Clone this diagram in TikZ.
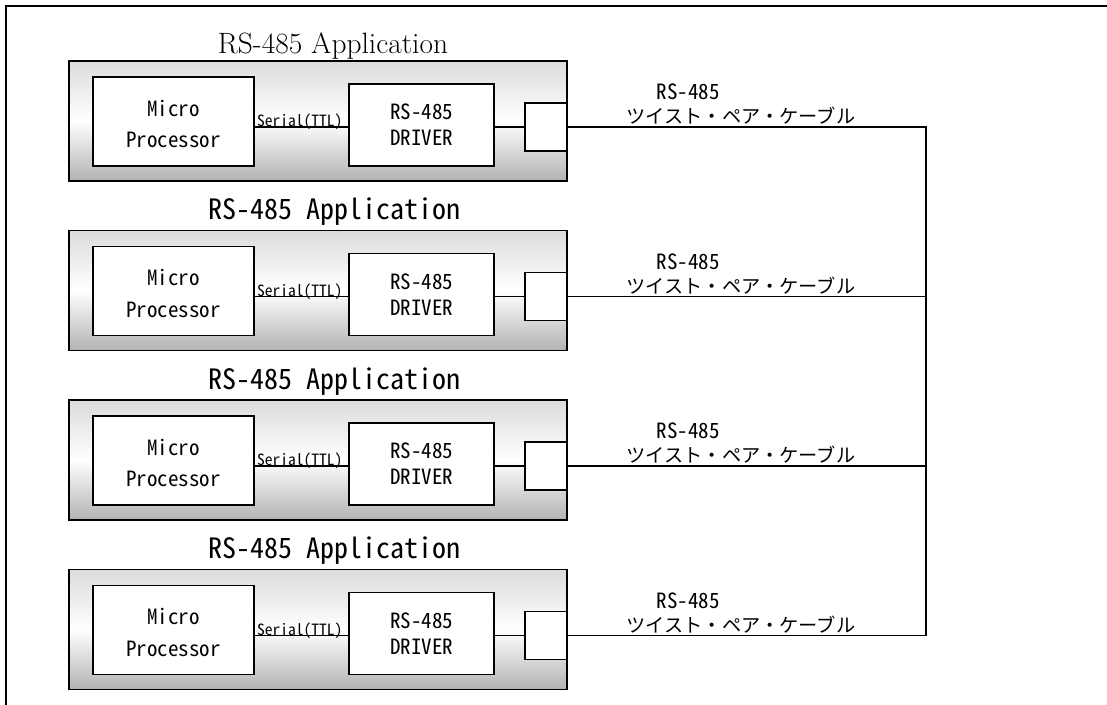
\documentclass[tikz,border=0pt]{standalone}
\usepackage{fontspec}
\newfontfamily\gothic{Noto Sans CJK JP}[RawFeature=+hwid]
\newfontfamily\jpfont{Noto Sans CJK JP}
\begin{document}
\begin{tikzpicture}[x=1pt,y=-1pt,
  appbox/.style={draw, line width=1.8pt, inner sep=0pt, outer sep=0pt, anchor=north west,
    minimum width=498pt, minimum height=120pt,
    shading=axis, top color=black!14, bottom color=black!30, middle color=white},
  wbox/.style={draw, line width=1.8pt, fill=white, inner sep=0pt, outer sep=0pt, anchor=north west},
  wire/.style={line width=1.9pt},
  lbl/.style={inner sep=0pt, outer sep=0pt},
  titleg/.style={lbl, font=\gothic\fontsize{28}{32}\selectfont},
  boxtext/.style={lbl, font=\gothic\fontsize{21}{24}\selectfont},
  sertext/.style={lbl, font=\gothic\fontsize{15.5}{18}\selectfont},
  jptext/.style={lbl, font=\jpfont\fontsize{19.2}{22}\selectfont}
]
\useasboundingbox (0,0) rectangle (1107,704);
% outer frame (cropped)
\draw[line width=2.4pt] (6,710) -- (6,6) -- (1115,6);
% bus coordinate
\coordinate (bus) at (926,0);
% titles
\node[lbl, font=\fontsize{29.4}{32}\selectfont] (t1) at (333,46) {RS-485 Application};
\node[titleg] (t2) at (334,212) {RS-485 Application};
\node[titleg] (t3) at (334,381.5) {RS-485 Application};
\node[titleg] (t4) at (334,551) {RS-485 Application};
\foreach \i/\T in {1/61,2/230.5,3/400,4/569.5}{
  \node[appbox] (app\i) at (69,\T) {};
  \node[wbox, minimum width=161pt, minimum height=89pt] (mp\i) at (93,\T+16) {};
  \node[wbox, minimum width=145pt, minimum height=82pt] (drv\i) at (349,\T+23) {};
  \node[wbox, minimum width=42pt, minimum height=48pt] (con\i) at (525,\T+42) {};
  \node[boxtext] (mpa\i) at (173.5,\T+47) {Micro};
  \node[boxtext] (mpb\i) at (173.5,\T+79) {Processor};
  \node[boxtext] (dra\i) at (421.5,\T+51) {RS-485};
  \node[boxtext] (drb\i) at (421.5,\T+77) {DRIVER};
  \draw[wire] (mp\i.east |- con\i.west) -- (drv\i.west |- con\i.west);
  \draw[wire] (drv\i.east |- con\i.west) -- (con\i.west);
  \node[sertext, anchor=south west] (ser\i) at ([xshift=3pt,yshift=-3pt]mp\i.east |- con\i.west) {Serial(TTL)};
  \node[boxtext] (cra\i) at (688,\T+31) {RS-485};
  \node[jptext] (crb\i) at (741,\T+55) {ツイスト・ペア・ケーブル};
}
\draw[wire] (con1.east) -- (con1.east -| bus) -- (con4.east -| bus) -- (con4.east);
\draw[wire] (con2.east) -- (con2.east -| bus);
\draw[wire] (con3.east) -- (con3.east -| bus);
\end{tikzpicture}
\end{document}
